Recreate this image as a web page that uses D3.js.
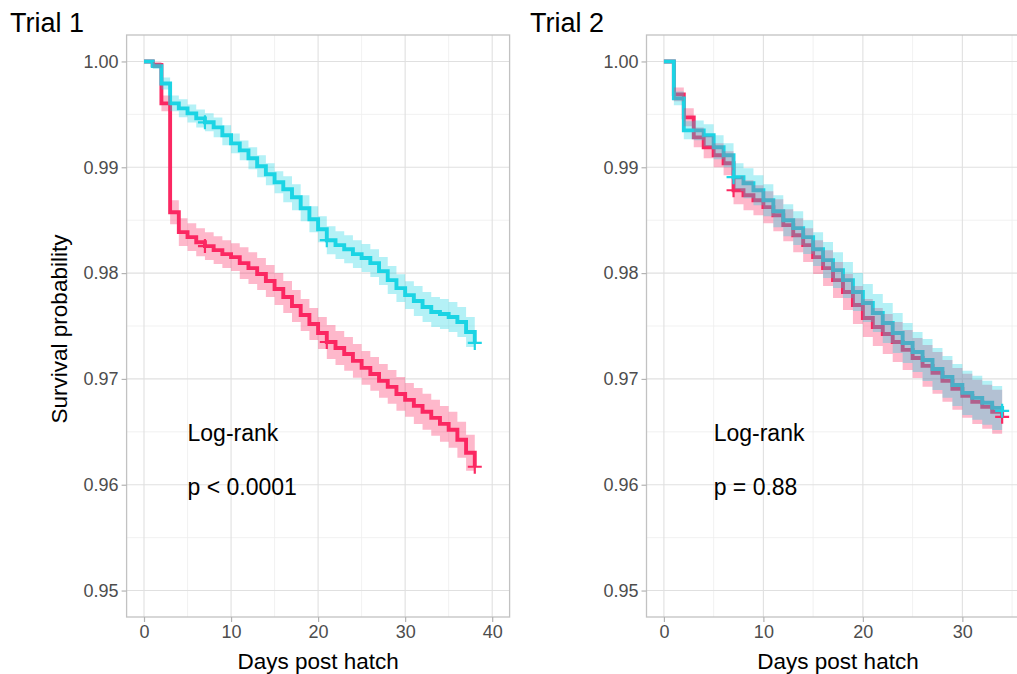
<!DOCTYPE html>
<html>
<head>
<meta charset="utf-8">
<script src="https://cdnjs.cloudflare.com/ajax/libs/d3/7.8.5/d3.min.js"></script>
<style>
  body { margin: 0; background: #fff; }
  svg { display: block; font-family: "Liberation Sans", Arial, Helvetica, sans-serif; }
</style>
</head>
<body>
<div id="chart"></div>
<script>
// ---- data ----
var yTicks = [0.95, 0.96, 0.97, 0.98, 0.99, 1.00];
var yMinor = [0.955, 0.965, 0.975, 0.985, 0.995];
var xTicks1 = [0, 10, 20, 30, 40];
var xTicks2 = [0, 10, 20, 30];
var xMinor = [5, 15, 25, 35];

// trial 1
var days1 = [0, 1, 2, 3, 4, 5, 6, 7, 8, 9, 10, 11, 12, 13, 14, 15, 16, 17, 18, 19, 20,
  21, 22, 23, 24, 25, 26, 27, 28, 29, 30, 31, 32, 33, 34, 35, 36, 37, 38];
var t1RedSurv = [1, .99967, .99604, .98575, .98387, .98340, .98292, .98255, .98217, .98179, .98151,
  .98094, .98047, .97991, .97925, .97849, .97774, .97689, .97604, .97519, .97434,
  .97349, .97292, .97236, .97170, .97104, .97047, .96981, .96925, .96858, .96802,
  .96745, .96689, .96632, .96575, .96519, .96425, .96302, .96170];
var t1RedLower = [1, .99939, .99529, .98462, .98255, .98208, .98160, .98123, .98085, .98047, .98019,
  .97943, .97896, .97840, .97774, .97698, .97623, .97538, .97453, .97368, .97283,
  .97189, .97132, .97076, .97010, .96944, .96887, .96821, .96765, .96698, .96642,
  .96575, .96519, .96462, .96405, .96349, .96255, .96132, .96000];
var t1RedUpper = [1, .99995, .99679, .98688, .98519, .98472, .98424, .98387, .98349, .98311, .98283,
  .98245, .98198, .98142, .98076, .98000, .97925, .97840, .97755, .97670, .97585,
  .97509, .97452, .97396, .97330, .97264, .97207, .97141, .97085, .97018, .96962,
  .96915, .96859, .96802, .96745, .96689, .96595, .96472, .96340];
var t1CyanSurv = [1, .99956, .99792, .99604, .99557, .99509, .99462, .99425, .99377, .99302, .99226,
  .99160, .99085, .99009, .98934, .98858, .98792, .98717, .98613, .98509, .98415,
  .98311, .98264, .98226, .98179, .98142, .98094, .98019, .97934, .97858, .97792,
  .97736, .97679, .97632, .97613, .97585, .97538, .97443, .97340];
var t1CyanLower = [1, .99928, .99735, .99529, .99472, .99424, .99377, .99340, .99283, .99208, .99132,
  .99066, .98981, .98905, .98830, .98754, .98669, .98594, .98490, .98386, .98292,
  .98179, .98132, .98094, .98047, .98010, .97962, .97887, .97802, .97726, .97660,
  .97594, .97537, .97490, .97471, .97443, .97396, .97301, .97198];
var t1CyanUpper = [1, .99984, .99849, .99679, .99642, .99594, .99547, .99510, .99471, .99396, .99320,
  .99254, .99189, .99113, .99038, .98962, .98915, .98840, .98736, .98632, .98538,
  .98443, .98396, .98358, .98311, .98274, .98226, .98151, .98066, .97990, .97924,
  .97878, .97821, .97774, .97755, .97727, .97680, .97585, .97482];
var t1RedCensor = [7, 21, 38];
var t1CyanCensor = [7, 21, 38];

// trial 2
var days2 = [0, 1, 2, 3, 4, 5, 6, 7, 8, 9, 10, 11, 12, 13, 14, 15, 16, 17, 18, 19, 20,
  21, 22, 23, 24, 25, 26, 27, 28, 29, 30, 31, 32, 33, 34];
var t2RedSurv = [1, .99689, .99472, .99283, .99189, .99113, .99038, .98783, .98736, .98689, .98623,
  .98547, .98453, .98358, .98264, .98151, .98047, .97934, .97821, .97698, .97575,
  .97491, .97425, .97349, .97274, .97198, .97123, .97057, .96981, .96906, .96840,
  .96783, .96736, .96689, .96642];
var t2RedLower = [1, .99623, .99387, .99189, .99085, .99000, .98925, .98651, .98594, .98547, .98472,
  .98396, .98302, .98198, .98104, .97991, .97877, .97764, .97651, .97519, .97396,
  .97312, .97236, .97160, .97085, .97009, .96925, .96859, .96783, .96708, .96632,
  .96575, .96528, .96481, .96434];
var t2RedUpper = [1, .99755, .99557, .99377, .99293, .99226, .99151, .98915, .98878, .98831, .98774,
  .98698, .98604, .98518, .98424, .98311, .98217, .98104, .97991, .97877, .97754,
  .97670, .97614, .97538, .97463, .97387, .97321, .97255, .97179, .97104, .97048,
  .96991, .96944, .96897, .96850];
var t2CyanSurv = [1, .99651, .99349, .99349, .99302, .99189, .99113, .98906, .98849, .98783, .98689,
  .98585, .98500, .98425, .98340, .98226, .98123, .98028, .97934, .97821, .97717,
  .97623, .97528, .97434, .97340, .97255, .97179, .97094, .97019, .96943, .96868,
  .96821, .96774, .96726, .96698];
var t2CyanLower = [1, .99585, .99264, .99255, .99198, .99076, .99000, .98774, .98707, .98641, .98538,
  .98434, .98349, .98265, .98180, .98066, .97953, .97858, .97764, .97642, .97538,
  .97444, .97339, .97245, .97151, .97066, .96981, .96896, .96821, .96745, .96660,
  .96613, .96566, .96518, .96490];
var t2CyanUpper = [1, .99717, .99434, .99443, .99406, .99302, .99226, .99038, .98991, .98925, .98840,
  .98736, .98651, .98585, .98500, .98386, .98293, .98198, .98104, .98000, .97896,
  .97802, .97717, .97623, .97529, .97444, .97377, .97292, .97217, .97141, .97076,
  .97029, .96982, .96934, .96906];
var t2RedCensor = [7, 34];
var t2CyanCensor = [7, 34];

var redColor = "#FB2862";
var cyanColor = "#1CD4E4";

function init() {
    var svgWidth = 1017;
    var svgHeight = 674;
    var plotTop = 35;
    var plotBottom = 617;
    var plotWidth = 383;

    var svg = d3.select("#chart")
        .append("svg")
        .attr("width", svgWidth)
        .attr("height", svgHeight);

    var yScale = d3.scaleLinear()
        .domain([0.9475, 1.0025])
        .range([plotBottom, plotTop]);

    function rows(days, surv, lower, upper) {
        return days.map((d, i) => ({ t: d, s: surv[i], lo: lower[i], hi: upper[i] }));
    }

    function drawPanel(p) {
        var xScale = d3.scaleLinear()
            .domain(p.xDomain)
            .range([p.left, p.left + plotWidth]);

        var g = svg.append("g");

        var clipId = "clip" + p.id;
        svg.append("clipPath")
            .attr("id", clipId)
            .append("rect")
            .attr("x", p.left)
            .attr("y", plotTop)
            .attr("width", plotWidth)
            .attr("height", plotBottom - plotTop);

        var grid = g.append("g").attr("clip-path", `url(#${clipId})`);

        // minor grid
        grid.selectAll(".minorY")
            .data(yMinor)
            .enter()
            .append("line")
            .attr("x1", p.left)
            .attr("x2", p.left + plotWidth)
            .attr("y1", d => yScale(d))
            .attr("y2", d => yScale(d))
            .attr("stroke", "#EDEDED")
            .attr("stroke-width", 0.8);
        grid.selectAll(".minorX")
            .data(xMinor)
            .enter()
            .append("line")
            .attr("y1", plotTop)
            .attr("y2", plotBottom)
            .attr("x1", d => xScale(d))
            .attr("x2", d => xScale(d))
            .attr("stroke", "#EDEDED")
            .attr("stroke-width", 0.8);
        // major grid
        grid.selectAll(".majorY")
            .data(yTicks)
            .enter()
            .append("line")
            .attr("x1", p.left)
            .attr("x2", p.left + plotWidth)
            .attr("y1", d => yScale(d))
            .attr("y2", d => yScale(d))
            .attr("stroke", "#E0E0E0")
            .attr("stroke-width", 1.1);
        grid.selectAll(".majorX")
            .data(p.xTicks)
            .enter()
            .append("line")
            .attr("y1", plotTop)
            .attr("y2", plotBottom)
            .attr("x1", d => xScale(d))
            .attr("x2", d => xScale(d))
            .attr("stroke", "#E0E0E0")
            .attr("stroke-width", 1.1);

        var stepLine = d3.line()
            .x(d => xScale(d.t))
            .y(d => yScale(d.s))
            .curve(d3.curveStepAfter);

        var stepArea = d3.area()
            .x(d => xScale(d.t))
            .y0(d => yScale(d.lo))
            .y1(d => yScale(d.hi))
            .curve(d3.curveStepAfter);

        var plot = g.append("g").attr("clip-path", `url(#${clipId})`);

        // lines first, ribbons on top (as survminer draws them)
        p.series.forEach(function(s) {
            plot.append("path")
                .datum(s.data)
                .attr("d", stepLine)
                .attr("fill", "none")
                .attr("stroke", s.color)
                .attr("stroke-width", 3.9)
                .attr("stroke-linejoin", "miter");
        });

        p.series.forEach(function(s) {
            plot.append("path")
                .datum(s.data)
                .attr("d", stepArea)
                .attr("fill", s.color)
                .attr("fill-opacity", 0.33)
                .attr("stroke", "none");
        });

        // censor marks
        p.series.forEach(function(s) {
            s.censor.forEach(function(c) {
                var idx = d3.bisectRight(s.data.map(d => d.t), c) - 1;
                var cx = xScale(c);
                var cy = yScale(s.data[idx].s);
                plot.append("path")
                    .attr("d", `M${cx - 7},${cy}H${cx + 7}M${cx},${cy - 7}V${cy + 7}`)
                    .attr("stroke", s.color)
                    .attr("stroke-width", 2.2)
                    .attr("fill", "none");
            });
        });

        // border
        g.append("rect")
            .attr("x", p.left)
            .attr("y", plotTop)
            .attr("width", plotWidth)
            .attr("height", plotBottom - plotTop)
            .attr("fill", "none")
            .attr("stroke", "#C2C2C2")
            .attr("stroke-width", 1.3);

        // axes
        var leftAxis = d3.axisLeft(yScale)
            .tickValues(yTicks)
            .tickFormat(d3.format(".2f"))
            .tickSize(5)
            .tickPadding(3);
        var botAxis = d3.axisBottom(xScale)
            .tickValues(p.xTicks)
            .tickFormat(d3.format("d"))
            .tickSize(5)
            .tickPadding(3);

        var ya = g.append("g")
            .attr("transform", `translate(${p.left}, 0)`)
            .call(leftAxis);
        var xa = g.append("g")
            .attr("transform", `translate(0, ${plotBottom})`)
            .call(botAxis);

        [ya, xa].forEach(function(a) {
            a.select(".domain").remove();
            a.selectAll(".tick line").attr("stroke", "#B3B3B3").attr("stroke-width", 1.2);
            a.selectAll(".tick text")
                .attr("fill", "#4D4D4D")
                .attr("font-size", "18px")
                .attr("font-family", "Liberation Sans, Arial, Helvetica, sans-serif");
        });

        // title
        svg.append("text")
            .attr("x", p.titleX)
            .attr("y", 32)
            .attr("font-size", "27px")
            .attr("fill", "#000")
            .text(p.title);

        // x axis title
        svg.append("text")
            .attr("x", p.left + plotWidth / 2)
            .attr("y", 669)
            .attr("text-anchor", "middle")
            .attr("font-size", "22.5px")
            .attr("fill", "#000")
            .text("Days post hatch");

        // log-rank annotation
        svg.append("text")
            .attr("x", xScale(5))
            .attr("y", yScale(0.96415))
            .attr("font-size", "23px")
            .attr("fill", "#000")
            .text("Log-rank");
        svg.append("text")
            .attr("x", xScale(5))
            .attr("y", yScale(0.9590))
            .attr("font-size", "23px")
            .attr("fill", "#000")
            .text(p.pText);
    }

    drawPanel({
        id: 1,
        left: 126.6,
        xDomain: [-2, 42],
        xTicks: xTicks1,
        title: "Trial 1",
        titleX: 10,
        pText: "p < 0.0001",
        series: [
            { color: redColor, data: rows(days1, t1RedSurv, t1RedLower, t1RedUpper), censor: t1RedCensor },
            { color: cyanColor, data: rows(days1, t1CyanSurv, t1CyanLower, t1CyanUpper), censor: t1CyanCensor }
        ]
    });

    drawPanel({
        id: 2,
        left: 646.5,
        xDomain: [-1.75, 36.75],
        xTicks: xTicks2,
        title: "Trial 2",
        titleX: 530,
        pText: "p = 0.88",
        series: [
            { color: redColor, data: rows(days2, t2RedSurv, t2RedLower, t2RedUpper), censor: t2RedCensor },
            { color: cyanColor, data: rows(days2, t2CyanSurv, t2CyanLower, t2CyanUpper), censor: t2CyanCensor }
        ]
    });

    // y axis title (left panel only)
    svg.append("text")
        .attr("transform", "translate(67, 329) rotate(-90)")
        .attr("text-anchor", "middle")
        .attr("font-size", "22.5px")
        .attr("fill", "#000")
        .text("Survival probability");
}
window.addEventListener('load', init, false);
</script>
</body>
</html>
